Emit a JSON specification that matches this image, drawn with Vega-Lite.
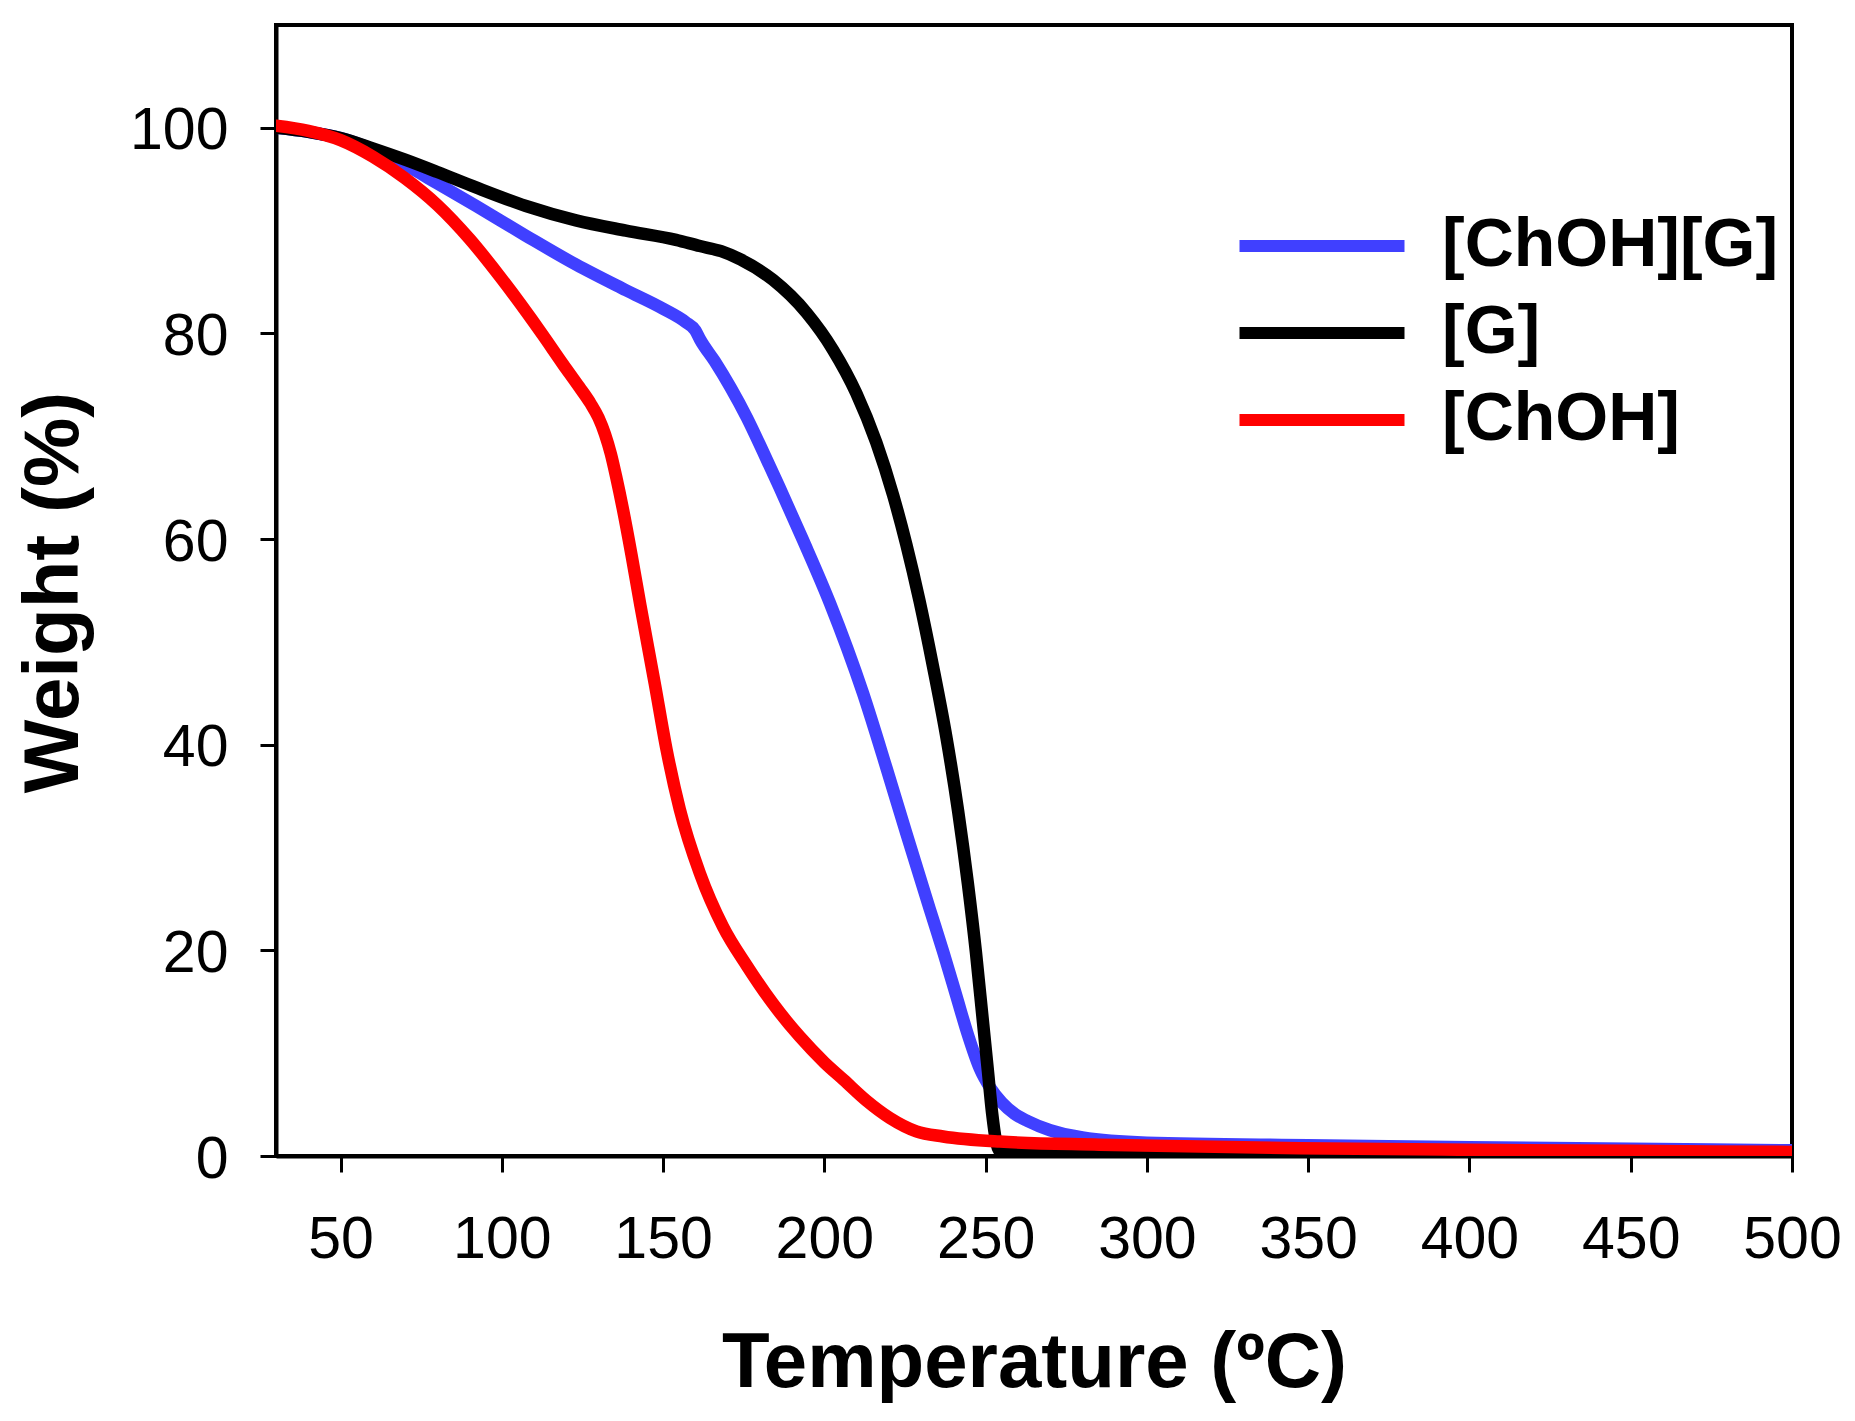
{
  "$schema": "https://vega.github.io/schema/vega-lite/v6.json",
  "width": 1516,
  "height": 1131,
  "autosize": {"type": "none"},
  "padding": {"left": 276, "top": 25, "right": 63, "bottom": 265},
  "background": "#ffffff",
  "config": {
    "font": "Liberation Sans",
    "view": {"stroke": "#000000", "strokeWidth": 4},
    "axis": {
      "grid": false,
      "domainColor": "#000000",
      "domainWidth": 4,
      "tickColor": "#000000",
      "tickWidth": 3,
      "tickSize": 16,
      "labelColor": "#000000",
      "labelFont": "Liberation Sans",
      "labelFontSize": 59,
      "labelFontWeight": "normal",
      "titleColor": "#000000",
      "titleFont": "Liberation Sans",
      "titleFontSize": 78,
      "titleFontWeight": "bold"
    }
  },
  "data": {
    "values": [
      {"series": "[ChOH][G]", "t": 30, "w": 100},
      {"series": "[ChOH][G]", "t": 40, "w": 99.6},
      {"series": "[ChOH][G]", "t": 50, "w": 99.0},
      {"series": "[ChOH][G]", "t": 60, "w": 97.9},
      {"series": "[ChOH][G]", "t": 70, "w": 96.4},
      {"series": "[ChOH][G]", "t": 80, "w": 94.6},
      {"series": "[ChOH][G]", "t": 92, "w": 92.4},
      {"series": "[ChOH][G]", "t": 107.5, "w": 89.5},
      {"series": "[ChOH][G]", "t": 123, "w": 86.7},
      {"series": "[ChOH][G]", "t": 138.5, "w": 84.2},
      {"series": "[ChOH][G]", "t": 150, "w": 82.4},
      {"series": "[ChOH][G]", "t": 157, "w": 81.1},
      {"series": "[ChOH][G]", "t": 160, "w": 80.3},
      {"series": "[ChOH][G]", "t": 161.5, "w": 79.4},
      {"series": "[ChOH][G]", "t": 166, "w": 77.3},
      {"series": "[ChOH][G]", "t": 171, "w": 74.7},
      {"series": "[ChOH][G]", "t": 176, "w": 71.8},
      {"series": "[ChOH][G]", "t": 181, "w": 68.5},
      {"series": "[ChOH][G]", "t": 186, "w": 65.1},
      {"series": "[ChOH][G]", "t": 193.4, "w": 59.9},
      {"series": "[ChOH][G]", "t": 201.7, "w": 53.8},
      {"series": "[ChOH][G]", "t": 212, "w": 45.0},
      {"series": "[ChOH][G]", "t": 219.3, "w": 37.7},
      {"series": "[ChOH][G]", "t": 225.4, "w": 31.4},
      {"series": "[ChOH][G]", "t": 232.7, "w": 24.0},
      {"series": "[ChOH][G]", "t": 237, "w": 19.7},
      {"series": "[ChOH][G]", "t": 240.9, "w": 15.6},
      {"series": "[ChOH][G]", "t": 244.5, "w": 11.8},
      {"series": "[ChOH][G]", "t": 248.2, "w": 8.5},
      {"series": "[ChOH][G]", "t": 251.5, "w": 6.6},
      {"series": "[ChOH][G]", "t": 255, "w": 5.2},
      {"series": "[ChOH][G]", "t": 259, "w": 4.1},
      {"series": "[ChOH][G]", "t": 263, "w": 3.4},
      {"series": "[ChOH][G]", "t": 270, "w": 2.5},
      {"series": "[ChOH][G]", "t": 280, "w": 1.8},
      {"series": "[ChOH][G]", "t": 300, "w": 1.3},
      {"series": "[ChOH][G]", "t": 350, "w": 1.05},
      {"series": "[ChOH][G]", "t": 400, "w": 0.85},
      {"series": "[ChOH][G]", "t": 450, "w": 0.7},
      {"series": "[ChOH][G]", "t": 500, "w": 0.55},
      {"series": "[G]", "t": 30, "w": 100},
      {"series": "[G]", "t": 40, "w": 99.6},
      {"series": "[G]", "t": 50, "w": 99.0},
      {"series": "[G]", "t": 60, "w": 98.0},
      {"series": "[G]", "t": 70, "w": 96.9},
      {"series": "[G]", "t": 80, "w": 95.7},
      {"series": "[G]", "t": 92, "w": 94.2},
      {"series": "[G]", "t": 107.5, "w": 92.4},
      {"series": "[G]", "t": 123, "w": 91.0},
      {"series": "[G]", "t": 138.5, "w": 90.0},
      {"series": "[G]", "t": 154, "w": 89.1},
      {"series": "[G]", "t": 161.4, "w": 88.5},
      {"series": "[G]", "t": 168, "w": 88.0},
      {"series": "[G]", "t": 174, "w": 87.2},
      {"series": "[G]", "t": 184.1, "w": 85.2},
      {"series": "[G]", "t": 194.5, "w": 82.0},
      {"series": "[G]", "t": 202.7, "w": 78.4},
      {"series": "[G]", "t": 209.9, "w": 74.2},
      {"series": "[G]", "t": 216.1, "w": 69.4},
      {"series": "[G]", "t": 221.3, "w": 64.3},
      {"series": "[G]", "t": 225.4, "w": 59.5},
      {"series": "[G]", "t": 229.5, "w": 54.0},
      {"series": "[G]", "t": 233.7, "w": 47.6},
      {"series": "[G]", "t": 237.8, "w": 40.8},
      {"series": "[G]", "t": 241.5, "w": 33.5},
      {"series": "[G]", "t": 244.5, "w": 26.5},
      {"series": "[G]", "t": 247, "w": 19.8},
      {"series": "[G]", "t": 249, "w": 13.6},
      {"series": "[G]", "t": 250.7, "w": 8.3},
      {"series": "[G]", "t": 252, "w": 4.2},
      {"series": "[G]", "t": 253.2, "w": 1.5},
      {"series": "[G]", "t": 254.4, "w": 0.5},
      {"series": "[G]", "t": 258, "w": 0.35},
      {"series": "[G]", "t": 300, "w": 0.3},
      {"series": "[G]", "t": 400, "w": 0.25},
      {"series": "[G]", "t": 500, "w": 0.2},
      {"series": "[ChOH]", "t": 30, "w": 100.2},
      {"series": "[ChOH]", "t": 40, "w": 99.7},
      {"series": "[ChOH]", "t": 50, "w": 98.8},
      {"series": "[ChOH]", "t": 60, "w": 97.2},
      {"series": "[ChOH]", "t": 70, "w": 95.1},
      {"series": "[ChOH]", "t": 80, "w": 92.5},
      {"series": "[ChOH]", "t": 90, "w": 89.2},
      {"series": "[ChOH]", "t": 100, "w": 85.3},
      {"series": "[ChOH]", "t": 112.6, "w": 79.9},
      {"series": "[ChOH]", "t": 119, "w": 77.0},
      {"series": "[ChOH]", "t": 124, "w": 74.8},
      {"series": "[ChOH]", "t": 127.5, "w": 73.2},
      {"series": "[ChOH]", "t": 130, "w": 71.8},
      {"series": "[ChOH]", "t": 132, "w": 70.2},
      {"series": "[ChOH]", "t": 133.8, "w": 68.3},
      {"series": "[ChOH]", "t": 135.5, "w": 66.0},
      {"series": "[ChOH]", "t": 137.5, "w": 63.0},
      {"series": "[ChOH]", "t": 140.2, "w": 58.5},
      {"series": "[ChOH]", "t": 143, "w": 53.5},
      {"series": "[ChOH]", "t": 147.4, "w": 46.0},
      {"series": "[ChOH]", "t": 151.1, "w": 39.5},
      {"series": "[ChOH]", "t": 155.2, "w": 33.7},
      {"series": "[ChOH]", "t": 161.4, "w": 27.5},
      {"series": "[ChOH]", "t": 168.6, "w": 22.3},
      {"series": "[ChOH]", "t": 176, "w": 18.5},
      {"series": "[ChOH]", "t": 184.1, "w": 14.8},
      {"series": "[ChOH]", "t": 192.4, "w": 11.6},
      {"series": "[ChOH]", "t": 200, "w": 9.1},
      {"series": "[ChOH]", "t": 206, "w": 7.4},
      {"series": "[ChOH]", "t": 213, "w": 5.4},
      {"series": "[ChOH]", "t": 220.3, "w": 3.7},
      {"series": "[ChOH]", "t": 228.5, "w": 2.4},
      {"series": "[ChOH]", "t": 236.8, "w": 1.9},
      {"series": "[ChOH]", "t": 254.4, "w": 1.4},
      {"series": "[ChOH]", "t": 285.3, "w": 1.1},
      {"series": "[ChOH]", "t": 347.3, "w": 0.75},
      {"series": "[ChOH]", "t": 400, "w": 0.6},
      {"series": "[ChOH]", "t": 450, "w": 0.5},
      {"series": "[ChOH]", "t": 500, "w": 0.4}
    ]
  },
  "mark": {
    "type": "line",
    "strokeWidth": 12.5,
    "strokeCap": "round",
    "strokeJoin": "round",
    "interpolate": "monotone",
    "clip": true
  },
  "encoding": {
    "x": {
      "field": "t",
      "type": "quantitative",
      "title": "Temperature (ºC)",
      "scale": {"domain": [30, 500], "nice": false, "zero": false},
      "axis": {
        "values": [50, 100, 150, 200, 250, 300, 350, 400, 450, 500],
        "labelPadding": 38,
        "labelFlush": false,
        "labelOverlap": false,
        "titleBaseline": "alphabetic",
        "titleY": 230
      }
    },
    "y": {
      "field": "w",
      "type": "quantitative",
      "title": "Weight (%)",
      "scale": {"domain": [0, 110], "nice": false},
      "axis": {
        "values": [0, 20, 40, 60, 80, 100],
        "labelPadding": 32,
        "labelOffset": 3,
        "labelFlush": false,
        "labelOverlap": false,
        "titleAngle": -90,
        "titleBaseline": "alphabetic",
        "titleX": -199,
        "titleY": 567
      }
    },
    "color": {
      "field": "series",
      "type": "nominal",
      "sort": ["[ChOH][G]", "[G]", "[ChOH]"],
      "scale": {
        "domain": ["[ChOH][G]", "[G]", "[ChOH]"],
        "range": ["#4040ff", "#000000", "#ff0000"]
      },
      "legend": {
        "orient": "none",
        "legendX": 1012,
        "legendY": 187,
        "title": null,
        "padding": 0,
        "symbolType": "M-8.25,0H8.25",
        "symbolSize": 400,
        "symbolStrokeWidth": 12,
        "labelFontSize": 68,
        "labelFontWeight": "bold",
        "labelColor": "#000000",
        "labelFont": "Liberation Sans",
        "labelOffset": 86,
        "labelLimit": 0,
        "rowPadding": 19
      }
    }
  }
}
